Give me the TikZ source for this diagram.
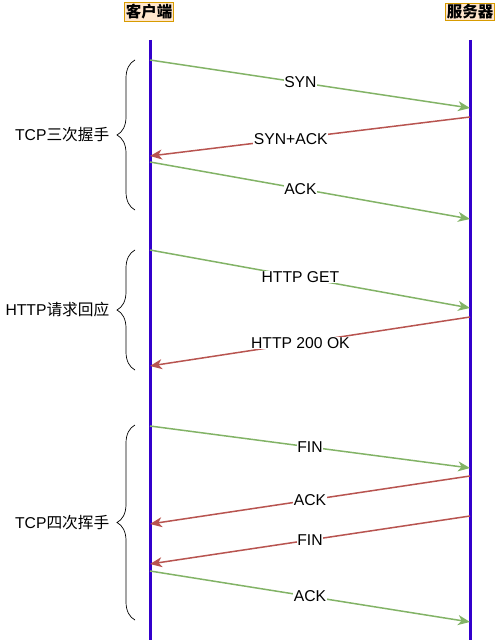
\documentclass[tikz,border=0pt]{standalone}
\usepackage{fontspec}
\setmainfont{Liberation Sans}
\newfontfamily\cjk{Noto Sans CJK SC}
\usetikzlibrary{arrows.meta,decorations.pathreplacing}

\begin{document}
\begin{tikzpicture}[x=1pt,y=-1pt,
  hdr/.style={draw=myorange,fill=mypeach,line width=1pt,inner sep=1.5pt,font=\cjk\bfseries\fontsize{15.5}{18}\selectfont},
  life/.style={draw=mypurple,line width=3pt},
  req/.style={draw=mygreen,line width=1.5pt,-{Stealth[length=12pt,width=10pt,inset=3.5pt]}},
  rsp/.style={req,draw=myred},
  lbl/.style={fill=white,inner sep=0.5pt,font=\fontsize{15.7}{18}\selectfont},
  brc/.style={decorate,decoration={brace,amplitude=18pt},line width=0.7pt},
  grp/.style={anchor=east,xshift=-22pt,font=\fontsize{15.7}{18}\selectfont}]

\definecolor{mypurple}{RGB}{51,0,204}
\definecolor{mygreen}{RGB}{130,179,102}
\definecolor{myred}{RGB}{184,84,80}
\definecolor{myorange}{RGB}{215,155,0}
\definecolor{mypeach}{RGB}{255,230,204}

    \useasboundingbox (0,0) rectangle (496,644);

    %Kopf
    \node[hdr] (cl) at (149,12) {客户端};
    \node[hdr] (sv) at (470,12) {服务器};

    %Lebenslinien
    \draw[life] (150,40) -- (150,640);
    \draw[life] (470,40) -- (470,640);

    %Punkte
    \coordinate (c1) at (150,60);  \coordinate (s1) at (470,108);
    \coordinate (s2) at (470,117); \coordinate (c2) at (150,156);
    \coordinate (c3) at (150,162); \coordinate (s3) at (470,219);
    \coordinate (c4) at (150,250); \coordinate (s4) at (470,308);
    \coordinate (s5) at (470,317); \coordinate (c5) at (150,366);
    \coordinate (c6) at (150,426); \coordinate (s6) at (470,468);
    \coordinate (s7) at (470,476); \coordinate (c7) at (150,524);
    \coordinate (s8) at (470,516); \coordinate (c8) at (150,564);
    \coordinate (c9) at (150,571); \coordinate (s9) at (470,622);

    %Nachrichten
    \draw[req] (c1) -- node[lbl,pos=.47] (m1) {SYN} (s1);
    \draw[rsp] (s2) -- node[lbl,pos=.56] (m2) {SYN+ACK} (c2);
    \draw[req] (c3) -- node[lbl,pos=.47] (m3) {ACK} (s3);
    \draw[req] (c4) -- node[lbl,pos=.47] (m4) {HTTP GET} (s4);
    \draw[rsp] (s5) -- node[lbl,pos=.53] (m5) {HTTP 200 OK} (c5);
    \draw[req] (c6) -- node[lbl,pos=.5] (m6) {FIN} (s6);
    \draw[rsp] (s7) -- node[lbl,pos=.5] (m7) {ACK} (c7);
    \draw[rsp] (s8) -- node[lbl,pos=.5] (m8) {FIN} (c8);
    \draw[req] (c9) -- node[lbl,pos=.5] (m9) {ACK} (s9);

    %Klammern
    \draw[brc] (135,210) -- node[grp] (g1) {TCP{\cjk 三次握手}} (135,60);
    \draw[brc] (135,370) -- node[grp] (g2) {HTTP{\cjk 请求回应}} (135,250);
    \draw[brc] (135,620) -- node[grp] (g3) {TCP{\cjk 四次挥手}} (135,425);

\end{tikzpicture}
\end{document}
